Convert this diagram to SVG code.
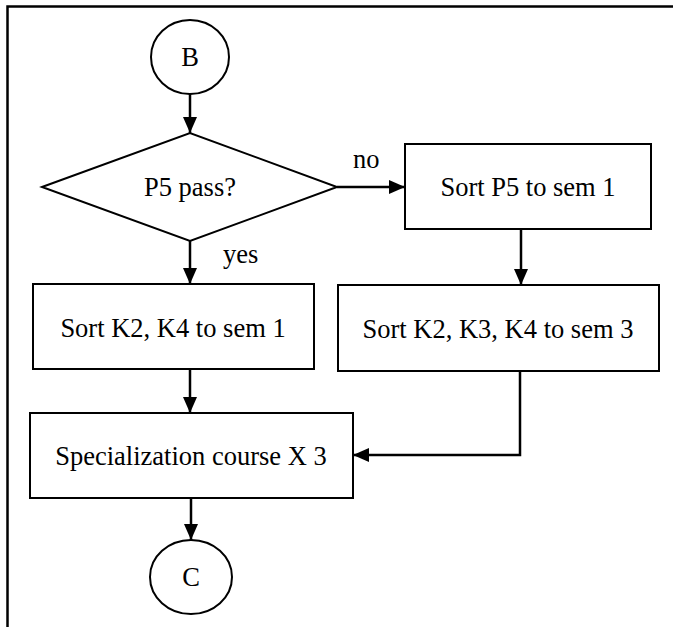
<svg xmlns="http://www.w3.org/2000/svg" width="673" height="627" viewBox="0 0 673 627">
<style>
.s{fill:#fff;stroke:#000;stroke-width:2}
.t{font-family:"Liberation Serif","Times New Roman",serif;font-size:26.5px;fill:#000;text-anchor:middle}
.l{font-family:"Liberation Serif","Times New Roman",serif;font-size:26.5px;fill:#000}
.c{fill:none;stroke:#000;stroke-width:2.5}
</style>
<defs>
<marker id="ah" viewBox="0 0 16 14" refX="16" refY="7" markerWidth="16" markerHeight="14" markerUnits="userSpaceOnUse" orient="auto">
<path d="M0,0 L16,7 L0,14 z" fill="#000"/>
</marker>
</defs>
<rect width="673" height="627" fill="#fff"/>
<g id="frame">
<path d="M7.5,627 L7.5,6.5 L673,6.5" fill="none" stroke="#000" stroke-width="2.5"/>
</g>
<g id="nodeB">
<ellipse class="s" cx="190" cy="57" rx="39" ry="37"/>
<text class="t" x="190" y="66">B</text>
</g>
<g id="decision">
<polygon class="s" points="42,187 190,133 337,187 190,241"/>
<text class="t" x="190" y="196">P5 pass?</text>
</g>
<g id="sortP5">
<rect class="s" x="405" y="144" width="246" height="85"/>
<text class="t" x="528" y="196">Sort P5 to sem 1</text>
</g>
<g id="sortK234">
<rect class="s" x="338" y="285" width="321" height="86"/>
<text class="t" x="498" y="338">Sort K2, K3, K4 to sem 3</text>
</g>
<g id="sortK24">
<rect class="s" x="33" y="284" width="281" height="85"/>
<text class="t" x="173" y="337">Sort K2, K4 to sem 1</text>
</g>
<g id="special">
<rect class="s" x="30" y="413" width="323" height="85"/>
<text class="t" x="191" y="465">Specialization course X 3</text>
</g>
<g id="nodeC">
<ellipse class="s" cx="191" cy="577" rx="41" ry="37"/>
<text class="t" x="191" y="586">C</text>
</g>
<g id="connectors">
<path class="c" d="M190,94 L190,133" marker-end="url(#ah)"/>
<path class="c" d="M337,187 L405,187" marker-end="url(#ah)"/>
<path class="c" d="M521,229 L521,285" marker-end="url(#ah)"/>
<path class="c" d="M190,241 L190,284" marker-end="url(#ah)"/>
<path class="c" d="M190,369 L190,413" marker-end="url(#ah)"/>
<path class="c" d="M520,371 L520,455 L353,455" marker-end="url(#ah)"/>
<path class="c" d="M191,498 L191,540" marker-end="url(#ah)"/>
<text class="l" x="353" y="168">no</text>
<text class="l" x="223" y="263">yes</text>
</g>
</svg>
